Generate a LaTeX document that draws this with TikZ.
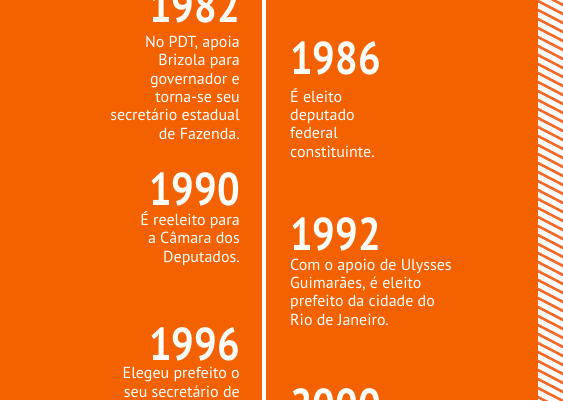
\documentclass[tikz,border=0pt]{standalone}
\usepackage{fontspec}
\setmainfont{PT Sans}
\newfontfamily\anofont[FakeStretch=0.87]{PT Sans}
\usepackage{xcolor}
\usepackage{tikz}
\usetikzlibrary{positioning}
\definecolor{laranja}{RGB}{244,98,0}
\definecolor{listra}{RGB}{246,104,40}
\tikzset{
	ano/.style={text=white, inner sep=0pt, text depth=0pt, font=\anofont\fontsize{46}{46}\selectfont\bfseries},
	texto/.style={text=white, inner sep=0pt, font=\fontsize{16}{18.3}\selectfont}
}

\begin{document}
\begin{tikzpicture}[x=1pt, y=-1pt]
			\fill [laranja] (0,0) rectangle (563,400);
			\useasboundingbox (0,0) rectangle (563,400);
			\fill [white] (538,0) rectangle (563,400);
			\begin{scope}
				\clip (538,0) rectangle (563,400);
				\foreach \k in {-27,-18,...,400}
					\draw [listra, line width=2.6pt] (536,\k) -- (565,\k+15);
			\end{scope}
			\draw [white, line width=4pt] (264,0) -- (264,400);
			\node [ano, anchor=base east] (a82) at (240,22) {1982};
			\node [texto, anchor=base east, align=right] (t82) at (240,139) {No PDT, apoia\\Brizola para\\governador e\\torna-se seu\\secretário estadual\\de Fazenda.};
			\node [ano, anchor=base east] (a90) at (240,205) {1990};
			\node [texto, anchor=base east, align=right] (t90) at (240,262) {É reeleito para\\a Câmara dos\\Deputados.};
			\node [ano, anchor=base east] (a96) at (240,360) {1996};
			\node [texto, anchor=base east, align=right] (t96) at (240,397) {Elegeu prefeito o\\seu secretário de};
			\node [ano, anchor=base west] (a86) at (290,74) {1986};
			\node [texto, anchor=base west, align=left] (t86) at (290,157) {É eleito\\deputado\\federal\\constituinte.};
			\node [ano, anchor=base west] (a92) at (290,250) {1992};
			\node [texto, anchor=base west, align=left] (t92) at (290,325) {Com o apoio de Ulysses\\Guimarães, é eleito\\prefeito da cidade do\\Rio de Janeiro.};
			\node [ano, anchor=base west] (a00) at (290,421) {2000};
		\end{tikzpicture}
\end{document}
